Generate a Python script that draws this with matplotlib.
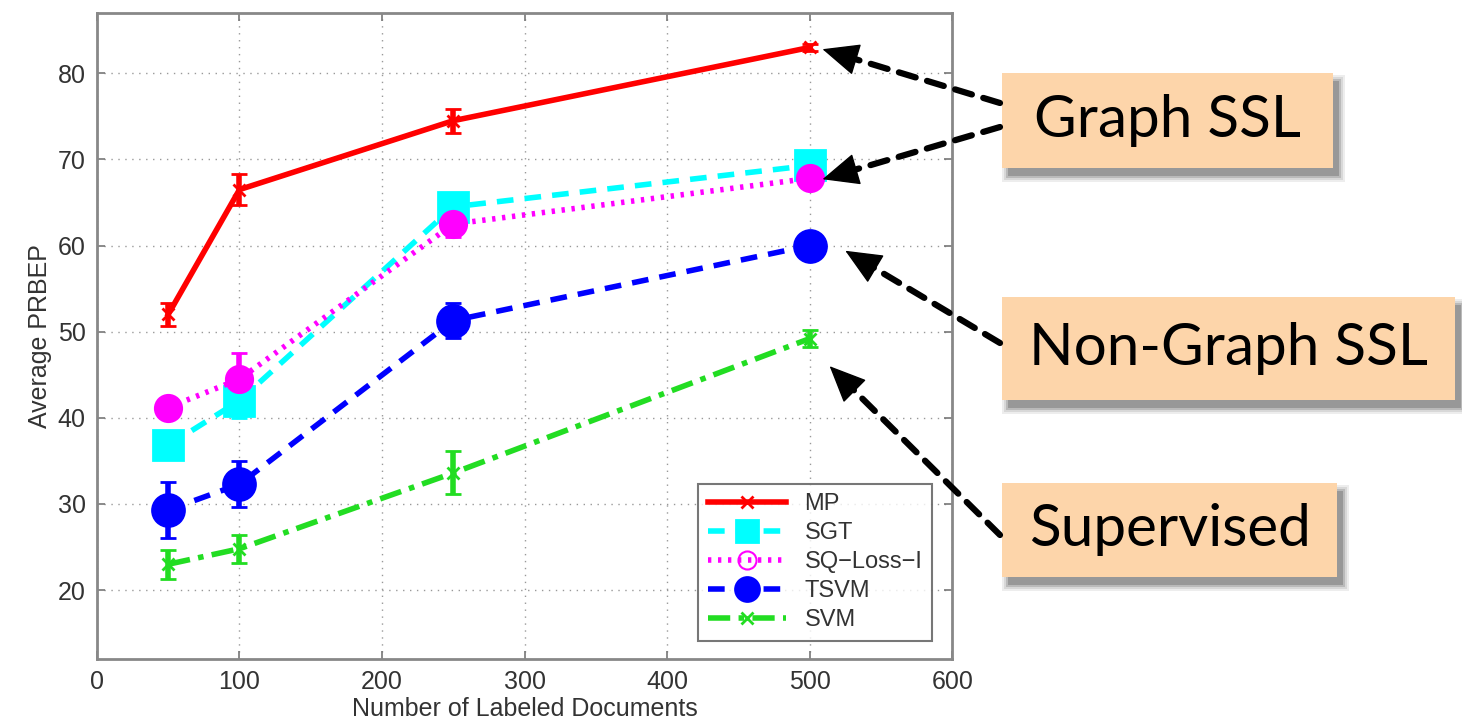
import matplotlib.pyplot as plt
from matplotlib.lines import Line2D
from matplotlib.patches import FancyBboxPatch, FancyArrowPatch
import numpy as np

plt.rcParams['font.family'] = ['Liberation Sans', 'DejaVu Sans']

docs = [50, 100, 250, 500]

mp = [52.0, 66.5, 74.5, 83.0]
mp_err = [1.3, 1.8, 1.4, 0.4]
sgt = [36.8, 42.0, 64.5, 69.3]
sgt_err = [1.0, 2.0, 1.2, 0.5]
sq_loss = [41.2, 44.5, 62.5, 67.8]
sq_err = [0.5, 3.0, 1.5, 0.5]
tsvm = [29.3, 32.3, 51.3, 60.0]
tsvm_err = [3.2, 2.7, 2.0, 0.5]
svm = [23.0, 24.8, 33.6, 49.2]
svm_err = [1.7, 1.6, 2.5, 1.0]

series_names = ["MP", "SGT", "SQ\u2212Loss\u2212I", "TSVM", "SVM"]
box_labels = ["Graph SSL", "Non-Graph SSL", "Supervised"]

fig = plt.figure(figsize=(14.62, 7.23), dpi=100)
ax = fig.add_axes([0.0663, 0.0885, 0.585, 0.8935])

styles = [
    (mp, mp_err, '#ff0000', '-', 'x', 8),
    (sgt, sgt_err, '#00ffff', (0, (3, 2)), 's', 21),
    (sq_loss, sq_err, '#ff00ff', (0, (0.6, 1.2)), 'o', 19),
    (tsvm, tsvm_err, '#0000ff', (0, (3, 2)), 'o', 23),
    (svm, svm_err, '#22dd22', (0, (4, 1.5, 1, 1.5)), 'x', 8),
]

handles = []
for (vals, err, col, ls, mk, ms), name in zip(styles, series_names):
    ax.errorbar(docs, vals, yerr=err, color=col, linestyle=ls, linewidth=4,
                marker=mk, markersize=ms, markeredgewidth=2,
                ecolor=col, elinewidth=4, capsize=6, capthick=4, zorder=3)
    if name.startswith("SQ"):
        h = Line2D([], [], color=col, linestyle=ls, linewidth=4, marker='o',
                   markersize=13, markerfacecolor='none', markeredgewidth=1.5)
    else:
        h = Line2D([], [], color=col, linestyle=ls, linewidth=4, marker=mk,
                   markersize=ms * 0.75 if ms > 10 else ms, markeredgewidth=2)
    handles.append(h)

ax.set_xlim(0, 600)
ax.set_ylim(12, 87)
ax.set_xticks([0, 100, 200, 300, 400, 500, 600])
ax.set_yticks([20, 30, 40, 50, 60, 70, 80])
ax.grid(True, linestyle=(0, (1, 4)), color='#999999', linewidth=1)
ax.tick_params(direction='in', top=True, right=True, length=6, width=1.2,
               labelsize=18, labelcolor='#333333', color='#777777', pad=8)
for s in ax.spines.values():
    s.set_color('#888888')
    s.set_linewidth(2)

ax.set_xlabel("Number of Labeled Documents", fontsize=18, color='#333333', labelpad=2)
ax.set_ylabel("Average PRBEP", fontsize=18, color='#333333', labelpad=4)

leg = ax.legend(handles, series_names, loc='lower right', fontsize=17,
                frameon=True, fancybox=False, edgecolor='#555555',
                handlelength=3.3, borderpad=0.4, labelspacing=0.3,
                bbox_to_anchor=(0.99, 0.01))
leg.get_frame().set_linewidth(1.5)
for t in leg.get_texts():
    t.set_color('#333333')

# annotation boxes on the right
W, H = 1462.0, 723.0
boxes = [
    (box_labels[0], 1002, 73, 331, 95),
    (box_labels[1], 1002, 297, 453, 103),
    (box_labels[2], 1002, 483, 335, 94),
]
for text, x0, y0, w, h in boxes:
    # soft shadow built from a few translucent layers
    for grow, a in [(6, 0.08), (4, 0.10), (2, 0.16), (0, 0.22)]:
        sx = x0 + 6 - grow
        sy = y0 + 8 - grow
        sh = FancyBboxPatch((sx / W, 1 - (sy + h + 2 * grow) / H),
                            (w + 2 * grow) / W, (h + 2 * grow) / H,
                            boxstyle='square,pad=0', transform=fig.transFigure,
                            facecolor='#222222', edgecolor='none', alpha=a, zorder=4)
        fig.patches.append(sh)
    box = FancyBboxPatch((x0 / W, 1 - (y0 + h) / H), w / W, h / H,
                         boxstyle='square,pad=0', transform=fig.transFigure,
                         facecolor='#fdd5aa', edgecolor='none', zorder=5)
    fig.patches.append(box)
    fig.text((x0 + w / 2) / W, 1 - (y0 + h / 2) / H, text, fontsize=42,
             family=['Lato', 'DejaVu Sans'], ha='center', va='center', zorder=6)

# dashed arrows from boxes to curve ends
arrows = [
    ((509, 82.8), (1000, 103)),
    ((509, 67.7), (1000, 127)),
    ((525, 59.4), (1000, 343)),
    ((514, 46.0), (1000, 535)),
]
head_px = 34
for (px, py), (tx, ty) in arrows:
    tip = ax.transData.transform((px, py))
    start = np.array([tx, H - ty])
    d = start - tip
    d = d / np.hypot(*d)
    base = tip + d * head_px
    shaft = FancyArrowPatch(posA=tuple(start), posB=tuple(base + d * -4),
                            transform=None, arrowstyle='-', color='black',
                            linewidth=4.5, linestyle=(0, (2.8, 1.9)),
                            shrinkA=0, shrinkB=0, zorder=7)
    fig.patches.append(shaft)
    head = FancyArrowPatch(posA=tuple(base), posB=tuple(tip), transform=None,
                           arrowstyle='-|>,head_length=1.7,head_width=0.75',
                           mutation_scale=14, color='black', linewidth=1,
                           shrinkA=0, shrinkB=0, zorder=7)
    fig.patches.append(head)

fig.savefig('out.png', dpi=100)
